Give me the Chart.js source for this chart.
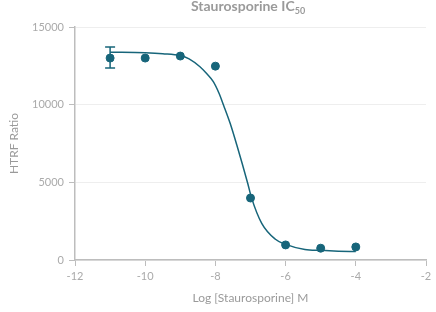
<!DOCTYPE html>
<html>
<head>
<meta charset="utf-8">
<script src="https://cdn.jsdelivr.net/npm/chart.js@4/dist/chart.umd.min.js"></script>
<style>
  html, body { margin: 0; padding: 0; background: #fff; }
  #wrap { position: relative; width: 436px; height: 312px; }
  #title { position: absolute; left: 0; width: 496px; top: -3px; text-align: center;
           font-family: Lato, "Open Sans", sans-serif; font-weight: bold; font-size: 14px; color: #9a9a9a; }
  #title sub { font-size: 9px; vertical-align: -3px; line-height: 0; }
  canvas { position: absolute; left: 0; top: 0; }
</style>
</head>
<body>
<div id="wrap">
  <canvas id="c" width="436" height="312"></canvas>
  <div id="title">Staurosporine IC<sub>50</sub></div>
</div>
<script>
// Measured data points (log concentration, HTRF ratio)
const logConc = [-11, -10, -9, -8, -7, -6, -5, -4];
const htrfRatio = [13000, 13000, 13130, 12480, 3990, 970, 760, 840];
// Error bar (only at first point)
const errLogConc = [-11];
const errLow = [12360];
const errHigh = [13720];
// Fitted curve
const curveX = [-11, -10, -9.5, -9, -8.75, -8.44, -8.25, -8.06, -7.9, -7.77, -7.58, -7.39, -7.08, -6.97, -6.68, -6.3, -6.02, -5.45, -5.0, -4.5, -4.0];
const curveY = [13380, 13340, 13280, 13160, 12950, 12440, 12000, 11480, 10750, 9980, 8800, 7400, 4940, 4000, 2360, 1350, 1020, 680, 620, 570, 540];
// Axis ticks
const xTicks = [-12, -10, -8, -6, -4, -2];
const yTicks = [0, 5000, 10000, 15000];

const teal = '#17657a';
const pts = logConc.map((x, i) => ({x, y: htrfRatio[i]}));
const curve = curveX.map((x, i) => ({x, y: curveY[i]}));

const errorBars = {
  id: 'errorBars',
  afterDatasetsDraw(chart) {
    const {ctx, scales: {x, y}} = chart;
    ctx.save();
    ctx.strokeStyle = teal;
    ctx.lineWidth = 1.5;
    errLogConc.forEach((lx, i) => {
      const px = x.getPixelForValue(lx);
      const top = y.getPixelForValue(errHigh[i]);
      const bot = y.getPixelForValue(errLow[i]);
      ctx.beginPath();
      ctx.moveTo(px, top); ctx.lineTo(px, bot);
      ctx.moveTo(px - 5, top); ctx.lineTo(px + 5, top);
      ctx.moveTo(px - 5, bot); ctx.lineTo(px + 5, bot);
      ctx.stroke();
    });
    ctx.restore();
  }
};

const tickFont = {family: 'Lato, "Open Sans", sans-serif', size: 11};
const titleFont = {family: 'Lato, "Open Sans", sans-serif', size: 12};

new Chart(document.getElementById('c'), {
  type: 'scatter',
  data: {
    datasets: [
      { type: 'line', data: curve, borderColor: teal, borderWidth: 1.5, pointRadius: 0,
        cubicInterpolationMode: 'monotone', fill: false, order: 2 },
      { data: pts, backgroundColor: teal, borderColor: teal, pointRadius: 4, pointHoverRadius: 4, order: 1 }
    ]
  },
  options: {
    responsive: false,
    animation: false,
    events: [],
    layout: { padding: { top: 27, right: 10, bottom: 0, left: 0 } },
    plugins: { legend: { display: false }, tooltip: { enabled: false } },
    scales: {
      x: {
        type: 'linear', min: -12, max: -2,
        afterBuildTicks(s) { s.ticks = xTicks.map(v => ({value: v})); },
        afterFit(s) { s.height = 52; },
        grid: { drawOnChartArea: false, tickLength: 6, tickColor: '#bdbdbd', color: '#bdbdbd' },
        border: { color: '#bdbdbd', width: 1.5 },
        ticks: { color: '#aaaaaa', font: tickFont, padding: 4, maxRotation: 0, callback: v => String(v) },
        title: { display: true, text: 'Log [Staurosporine] M', color: '#9a9a9a', font: titleFont,
                 padding: { top: 0, bottom: 7 } }
      },
      y: {
        min: 0, max: 15000,
        afterBuildTicks(s) { s.ticks = yTicks.map(v => ({value: v})); },
        afterFit(s) { s.width = 75; },
        grid: { color: '#eeeeee', tickLength: 6, tickColor: '#bdbdbd', lineWidth: 1 },
        border: { color: '#bdbdbd', width: 1.5 },
        ticks: { color: '#aaaaaa', font: tickFont, padding: 5, callback: v => String(v) },
        title: { display: true, text: 'HTRF Ratio', color: '#9a9a9a', font: titleFont,
                 padding: { top: 7, bottom: 0 } }
      }
    }
  },
  plugins: [errorBars]
});
</script>
</body>
</html>
